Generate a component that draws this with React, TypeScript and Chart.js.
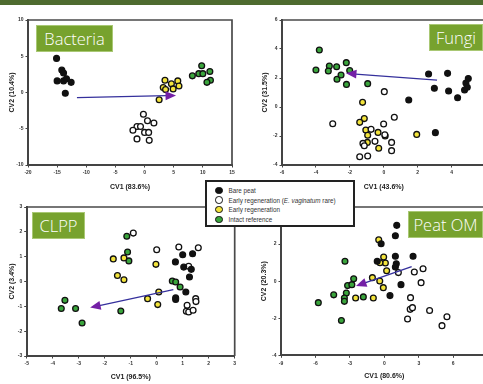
import React, { useEffect, useRef } from "react";
import { Chart, registerables } from "chart.js";
Chart.register(...registerables);

// ---------- DATA ----------
const seriesNames = ["Bare peat", "Early regeneration (E. vaginatum rare)", "Early regeneration", "Intact reference"];
const seriesColors = ["#111111", "#ffffff", "#f3e43c", "#3aa53c"];

// Bacteria
const bacteriaBare = [[-15.1, 4.7], [-14.2, 3.1], [-13.9, 2.7], [-15.0, 1.6], [-13.9, 1.6], [-13.4, 1.9], [-12.6, 1.4], [-13.6, -0.1]];
const bacteriaRare = [[-0.2, -3.0], [0.5, -3.9], [1.6, -4.2], [-1.3, -4.7], [-0.7, -4.7], [-2.0, -5.2], [0.0, -5.5], [0.7, -5.5], [-1.3, -6.4], [0.8, -6.6]];
const bacteriaEarly = [[3.5, 1.7], [4.6, 1.2], [5.7, 1.6], [5.9, 0.9], [3.2, 0.7], [3.6, 0.4], [4.9, 0.5], [2.5, -1.0]];
const bacteriaIntact = [[8.2, 2.3], [9.8, 3.7], [9.3, 2.6], [10.0, 2.6], [11.2, 2.9], [11.3, 1.7], [10.7, 1.4]];
const bacteriaArrow = [[-11.6, -0.7], [5.4, -0.4]];

// Fungi
const fungiBare = [[2.64, 2.28], [3.76, 2.32], [2.98, 1.29], [3.82, 1.1], [4.35, 0.64], [1.47, 0.48], [3.04, -1.77], [4.84, 1.66], [4.98, 1.97], [4.76, 1.17], [4.92, 1.36]];
const fungiRare = [[0.03, 1.06], [0.62, -0.71], [-3.01, -1.15], [-0.01, -1.17], [-0.75, -1.54], [0.06, -1.91], [-0.52, -2.37], [0.46, -2.44], [-1.23, -2.51], [-1.15, -2.67], [0.46, -3.01], [-1.42, -3.43], [-0.95, -3.38]];
const fungiEarly = [[-1.25, 0.32], [-1.15, -0.8], [-1.42, -1.06], [-1.06, -1.59], [-0.95, -1.95], [-0.97, -2.44], [-0.34, -1.75], [0.08, -2.0], [-0.3, -2.85], [1.94, -1.89]];
const fungiIntact = [[-3.8, 3.93], [-4.0, 2.55], [-3.21, 2.83], [-3.27, 2.48], [-2.78, 2.78], [-2.76, 1.91], [-2.52, 2.21], [-2.21, 3.06], [-2.01, 2.51], [-2.2, 1.56], [-0.95, 1.61]];
const fungiArrow = [[3.14, 1.86], [-2.23, 2.32]];

// CLPP
const clppBare = [[1.0, 1.08], [1.38, 1.12], [0.72, 0.79], [1.04, 0.58], [1.33, 0.49], [1.26, 0.18], [1.12, -0.42], [0.73, -0.66], [0.73, -0.72]];
const clppRare = [[-0.9, 1.95], [0.0, 1.28], [0.85, 1.39], [1.6, 1.36], [1.23, 0.61], [1.5, -0.69], [1.51, -0.81], [1.17, -0.96], [1.14, -1.2], [1.23, -1.23], [1.4, -1.16]];
const clppEarly = [[-1.67, 0.91], [-1.26, 0.95], [-1.51, 0.24], [-1.26, 0.07], [-0.03, 0.69], [0.08, -0.42], [-0.35, -0.69], [0.04, -0.93]];
const clppIntact = [[-1.15, 1.82], [-1.12, 1.19], [-1.07, 0.83], [0.6, 0.02], [0.73, -0.02], [0.9, -0.22], [-3.53, -0.76], [-3.67, -1.09], [-3.12, -1.09], [-2.87, -1.67], [-1.38, -1.19]];
const clppArrow = [[0.64, -0.33], [-2.56, -1.05]];

// Peat OM
const peatBare = [[1.08, 3.01], [0.96, 2.45], [-0.28, 2.02], [0.96, 1.34], [2.5, 1.34], [-0.62, 1.07], [1.04, 0.94], [0.96, 0.76], [1.45, -0.19], [0.49, -0.78]];
const peatRare = [[1.22, 0.46], [2.61, 0.49], [3.37, 0.67], [3.2, -0.08], [2.28, -0.89], [2.25, -1.52], [2.45, -1.43], [2.02, -2.04], [3.94, -1.58], [5.45, -1.92], [5.02, -2.4]];
const peatEarly = [[-0.49, 2.23], [-0.06, 1.3], [0.09, 0.98], [-0.38, 0.99], [0.2, 0.56], [-1.04, 0.19], [-0.4, 0.01], [-0.09, -0.35], [-2.5, -0.91], [-0.96, -0.91]];
const peatIntact = [[-3.43, 1.07], [-2.67, 0.13], [-3.2, -0.24], [-2.83, -0.19], [-3.31, -0.64], [-3.48, -0.91], [-3.48, -1.09], [-4.41, -0.74], [-5.75, -1.16], [-3.74, -2.12], [-1.83, -0.85]];
const peatArrow = [[2.38, 0.78], [-2.47, -0.26]];

const panelTitles = ["Bacteria", "Fungi", "CLPP", "Peat OM"];
const xAxisLabels = ["CV1 (83.6%)", "CV1 (43.6%)", "CV1 (96.5%)", "CV1 (80.6%)"];
const yAxisLabels = ["CV2 (10.4%)", "CV2 (31.5%)", "CV2 (3.4%)", "CV2 (20.3%)"];
const xRanges = [[-20, 15, 5], [-6, 6, 2], [-5, 3, 1], [-9, 9, 3]];
const yRanges = [[-10, 10, 5], [-4, 6, 2], [-3, 3, 1], [-4, 4, 2]];
const panelSeries = [
  [bacteriaBare, bacteriaRare, bacteriaEarly, bacteriaIntact],
  [fungiBare, fungiRare, fungiEarly, fungiIntact],
  [clppBare, clppRare, clppEarly, clppIntact],
  [peatBare, peatRare, peatEarly, peatIntact],
];
const panelArrows = [bacteriaArrow, fungiArrow, clppArrow, peatArrow];

// ---------- LAYOUT (page px) ----------
const geo = [
  { cx: 0, cy: 0, L: 28, R: 232, T: 20, B: 165, xt: 187, yt: 12, box: [36, 25, 77, 27] },
  { cx: 241, cy: 0, L: 282, R: 485.6, T: 20, B: 165, xt: 187, yt: 265, box: [429, 24, 54, 27] },
  { cx: 0, cy: 192, L: 26.7, R: 234.7, T: 207, B: 356, xt: 377, yt: 12, box: [32, 212, 53, 27] },
  { cx: 241, cy: 192, L: 281, R: 487.7, T: 207, B: 355.3, xt: 376, yt: 264, box: [408, 211, 75, 27] },
];

const FONT = "'Liberation Sans', Arial, sans-serif";

const framePlugin = {
  id: "frameArrow",
  afterDatasetsDraw(chart: any, _args: any, opts: any) {
    const { ctx, chartArea: a, scales } = chart;
    ctx.save();
    ctx.strokeStyle = "#4a4a4a";
    ctx.lineWidth = 1.7;
    ctx.beginPath();
    ctx.moveTo(a.left, a.top);
    ctx.lineTo(a.right, a.top);
    ctx.lineTo(a.right, a.bottom);
    ctx.stroke();
    const arr = opts.arrow;
    if (arr) {
      const x0 = scales.x.getPixelForValue(arr[0][0]);
      const y0 = scales.y.getPixelForValue(arr[0][1]);
      const x1 = scales.x.getPixelForValue(arr[1][0]);
      const y1 = scales.y.getPixelForValue(arr[1][1]);
      const ang = Math.atan2(y1 - y0, x1 - x0);
      const len = 10.5, half = 4.5;
      const c = Math.cos(ang), s = Math.sin(ang);
      const bx = x1 - len * c, by = y1 - len * s;
      ctx.strokeStyle = "#35309c";
      ctx.lineWidth = 1.3;
      ctx.beginPath();
      ctx.moveTo(x0, y0);
      ctx.lineTo(bx + 1 * c, by + 1 * s);
      ctx.stroke();
      ctx.fillStyle = "#7420a6";
      ctx.beginPath();
      ctx.moveTo(x1, y1);
      ctx.lineTo(bx - half * s, by + half * c);
      ctx.lineTo(bx + half * s, by - half * c);
      ctx.closePath();
      ctx.fill();
    }
    ctx.restore();
  },
};

function Panel({ i }: { i: number }) {
  const ref = useRef<HTMLCanvasElement>(null);
  const g = geo[i];
  const H = 30;
  const cw = Math.ceil(g.R - g.cx + 10);
  const ch = Math.ceil(g.B - g.cy + H);
  useEffect(() => {
    const W = g.L - g.cx;
    const Hx = g.cy + ch - g.B;
    const lh = 7 * 1.2;
    const Pb = g.B + Hx - g.xt - lh / 2;
    const Pt = g.yt - g.cx - lh / 2;
    const [xmin, xmax, xstep] = xRanges[i];
    const [ymin, ymax, ystep] = yRanges[i];
    const chart = new Chart(ref.current as HTMLCanvasElement, {
      type: "scatter",
      data: {
        datasets: panelSeries[i].map((pts, k) => ({
          label: seriesNames[k],
          data: pts.map(([x, y]) => ({ x, y })),
          backgroundColor: seriesColors[k],
          borderColor: "#111",
          borderWidth: 1.3,
          pointRadius: 2.9,
          pointHoverRadius: 2.9,
        })),
      },
      options: {
        animation: false,
        responsive: false,
        events: [],
        layout: { padding: { left: 0, right: cw - (g.R - g.cx), top: g.T - g.cy, bottom: 0 } },
        plugins: {
          legend: { display: false },
          tooltip: { enabled: false },
          frameArrow: { arrow: panelArrows[i] },
        } as any,
        scales: {
          x: {
            type: "linear",
            position: "bottom",
            min: xmin,
            max: xmax,
            ticks: { stepSize: xstep, font: { size: 5, weight: "bold", family: FONT }, color: "#333", padding: 2.5, maxRotation: 0, autoSkip: false },
            grid: { drawOnChartArea: false, drawTicks: true, tickLength: 2.5, color: "#444" },
            border: { display: true, color: "#444", width: 2 },
            title: { display: true, text: xAxisLabels[i], font: { size: 7, weight: "bold", family: FONT }, color: "#222", padding: { top: 0, bottom: Pb } },
            afterFit: (s: any) => { s.height = Hx; s.paddingLeft = 0; s.paddingRight = 0; },
          },
          y: {
            type: "linear",
            position: "left",
            min: ymin,
            max: ymax,
            ticks: { stepSize: ystep, font: { size: 5, weight: "bold", family: FONT }, color: "#333", padding: 2, autoSkip: false },
            grid: { drawOnChartArea: false, drawTicks: true, tickLength: 2.5, color: "#444" },
            border: { display: true, color: "#444", width: 2 },
            title: { display: true, text: yAxisLabels[i], font: { size: 7, weight: "bold", family: FONT }, color: "#222", padding: { top: Pt, bottom: 0 } },
            afterFit: (s: any) => { s.width = W; s.paddingTop = 0; s.paddingBottom = 0; },
          },
        },
      } as any,
      plugins: [framePlugin],
    });
    return () => chart.destroy();
  }, []);
  return (
    <canvas
      ref={ref}
      width={cw}
      height={ch}
      style={{ position: "absolute", left: g.cx, top: g.cy, width: cw, height: ch }}
    />
  );
}

function LabelBox({ i }: { i: number }) {
  const [x, y, w, h] = geo[i].box;
  return (
    <div
      style={{
        position: "absolute",
        left: x,
        top: y,
        width: w,
        height: h,
        boxSizing: "border-box",
        background: "#77a22e",
        border: "1px solid #a9c874",
        color: "#fff",
        fontFamily: "'Open Sans', sans-serif",
        fontWeight: 300,
        fontSize: 16.5,
        lineHeight: `${h - 2}px`,
        textAlign: "center",
        whiteSpace: "nowrap",
        zIndex: 2,
      }}
    >
      {panelTitles[i]}
    </div>
  );
}

function Legend() {
  const rows = [
    <span>Bare peat</span>,
    <span>Early regeneration (<i>E. vaginatum</i> rare)</span>,
    <span>Early regeneration</span>,
    <span>Intact reference</span>,
  ];
  return (
    <div
      style={{
        position: "absolute",
        left: 205,
        top: 180,
        width: 150,
        height: 47,
        boxSizing: "border-box",
        border: "2px solid #222",
        background: "#fff",
        zIndex: 3,
        fontFamily: FONT,
        fontSize: 6.3,
        color: "#333",
      }}
    >
      {rows.map((r, k) => (
        <div key={k} style={{ position: "absolute", left: 8, top: 4 + k * 9.6, height: 9, display: "flex", alignItems: "center", whiteSpace: "nowrap" }}>
          <span
            style={{
              display: "inline-block",
              width: 7.5,
              height: 7.5,
              boxSizing: "border-box",
              borderRadius: "50%",
              background: seriesColors[k],
              border: "1.8px solid #111",
              marginRight: 6,
            }}
          />
          {r}
        </div>
      ))}
    </div>
  );
}

export default function App() {
  return (
    <div style={{ position: "fixed", left: 0, top: 0, width: 483, height: 384, overflow: "hidden", background: "#fff" }}>
      <div style={{ position: "absolute", left: 0, top: 0, width: 483, height: 5, background: "#4e6b2f", zIndex: 4 }} />
      {[0, 1, 2, 3].map((i) => (
        <Panel key={i} i={i} />
      ))}
      {[0, 1, 2, 3].map((i) => (
        <LabelBox key={"b" + i} i={i} />
      ))}
      <Legend />
    </div>
  );
}
